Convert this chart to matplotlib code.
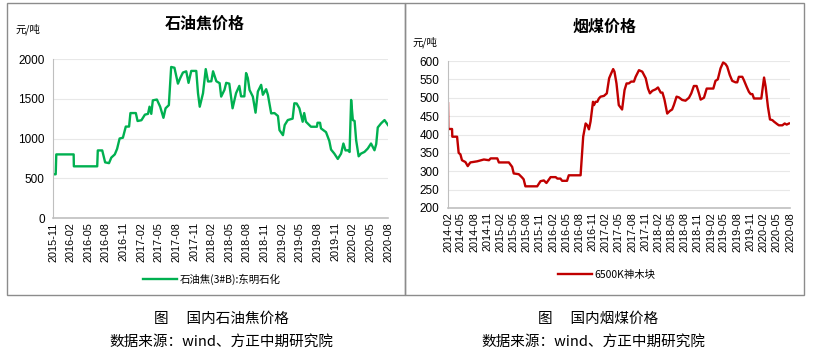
import pandas as pd
import matplotlib
matplotlib.use("Agg")
import matplotlib.pyplot as plt
import matplotlib.dates as mdates
from matplotlib.patches import Rectangle
from matplotlib.lines import Line2D

plt.rcParams["font.family"] = ["Noto Sans CJK SC", "DejaVu Sans"]

# 石油焦(3#B):东明石化  元/吨
coke_dates = [
    "2015-11-01", "2015-11-15", "2015-11-18", "2016-02-16", "2016-02-17", "2016-06-17",
    "2016-06-20", "2016-07-13", "2016-07-19", "2016-07-28", "2016-08-17", "2016-08-29",
    "2016-09-16", "2016-09-28", "2016-10-11", "2016-10-28", "2016-11-12", "2016-11-29",
    "2016-12-06", "2017-01-03", "2017-01-12", "2017-02-01", "2017-02-19", "2017-03-07",
    "2017-03-15", "2017-03-24", "2017-04-01", "2017-04-22", "2017-05-09", "2017-05-26",
    "2017-06-06", "2017-06-23", "2017-07-05", "2017-07-22", "2017-08-09", "2017-08-21",
    "2017-09-04", "2017-09-21", "2017-10-03", "2017-10-17", "2017-11-12", "2017-11-21",
    "2017-11-30", "2017-12-17", "2017-12-31", "2018-01-12", "2018-01-29", "2018-02-07",
    "2018-02-24", "2018-03-13", "2018-03-21", "2018-04-07", "2018-04-16", "2018-05-02",
    "2018-05-19", "2018-06-06", "2018-06-23", "2018-07-02", "2018-07-19", "2018-07-28",
    "2018-08-06", "2018-08-15", "2018-09-01", "2018-09-15", "2018-09-27", "2018-10-14",
    "2018-10-23", "2018-11-09", "2018-11-18", "2018-12-05", "2018-12-22", "2019-01-09",
    "2019-01-17", "2019-02-04", "2019-02-13", "2019-03-01", "2019-03-26", "2019-04-04",
    "2019-04-16", "2019-04-30", "2019-05-17", "2019-05-25", "2019-06-03", "2019-06-29",
    "2019-07-30", "2019-08-02", "2019-08-15", "2019-08-20", "2019-09-15", "2019-10-02",
    "2019-10-11", "2019-10-28", "2019-11-15", "2019-12-02", "2019-12-14", "2019-12-25",
    "2020-01-06", "2020-01-15", "2020-01-23", "2020-02-01", "2020-02-10", "2020-02-18",
    "2020-03-02", "2020-03-14", "2020-04-01", "2020-04-18", "2020-05-05", "2020-05-23",
    "2020-06-01", "2020-06-09", "2020-06-26", "2020-07-14", "2020-08-01",
]
coke_prices = [
    550, 550, 800, 800, 650, 650,
    850, 850, 790, 700, 690, 760,
    800, 870, 1000, 1010, 1150, 1150,
    1320, 1320, 1220, 1230, 1300, 1310,
    1400, 1310, 1480, 1490, 1400, 1260,
    1380, 1420, 1900, 1890, 1690, 1760,
    1830, 1845, 1700, 1850, 1850, 1570,
    1400, 1570, 1873, 1717, 1720, 1845,
    1720, 1696, 1527, 1612, 1700, 1690,
    1380, 1570, 1662, 1530, 1530, 1823,
    1760, 1610, 1527, 1325, 1591, 1675,
    1550, 1620, 1549, 1316, 1320, 1283,
    1105, 1042, 1169, 1232, 1250, 1443,
    1440, 1380, 1211, 1320, 1211, 1148,
    1148, 1198, 1198, 1127, 1080, 970,
    861, 810, 743, 810, 937, 850,
    852, 830, 1485, 1232, 1220, 979,
    776, 810, 831, 873, 937, 852,
    930, 1139, 1190, 1232, 1169,
]

# 6500K神木块  元/吨
coal_dates = [
    "2014-02-01", "2014-02-03", "2014-03-01", "2014-03-03", "2014-04-05", "2014-04-16",
    "2014-04-28", "2014-05-09", "2014-06-02", "2014-06-18", "2014-07-06", "2014-08-22",
    "2014-10-08", "2014-11-12", "2014-11-24", "2015-01-09", "2015-01-20", "2015-03-30",
    "2015-04-22", "2015-05-03", "2015-06-07", "2015-06-30", "2015-07-11", "2015-07-23",
    "2015-10-13", "2015-11-05", "2015-11-28", "2015-12-16", "2016-01-14", "2016-02-18",
    "2016-03-01", "2016-03-22", "2016-04-03", "2016-05-07", "2016-05-19", "2016-08-09",
    "2016-08-27", "2016-09-13", "2016-09-25", "2016-10-06", "2016-10-17", "2016-11-03",
    "2016-11-10", "2016-11-21", "2016-12-03", "2016-12-14", "2016-12-26", "2017-01-18",
    "2017-02-07", "2017-02-23", "2017-03-09", "2017-03-23", "2017-04-01", "2017-04-15",
    "2017-05-01", "2017-05-24", "2017-06-10", "2017-06-24", "2017-07-10", "2017-07-26",
    "2017-08-14", "2017-08-26", "2017-09-18", "2017-10-11", "2017-11-04", "2017-11-20",
    "2017-12-03", "2017-12-20", "2018-01-12", "2018-01-28", "2018-02-16", "2018-02-28",
    "2018-03-14", "2018-04-02", "2018-04-20", "2018-05-06", "2018-05-18", "2018-06-06",
    "2018-06-22", "2018-07-15", "2018-08-07", "2018-08-31", "2018-09-16", "2018-10-04",
    "2018-10-23", "2018-11-08", "2018-11-20", "2018-12-13", "2019-01-01", "2019-02-16",
    "2019-03-03", "2019-03-19", "2019-04-07", "2019-04-25", "2019-05-11", "2019-05-23",
    "2019-06-10", "2019-06-27", "2019-07-20", "2019-08-01", "2019-08-12", "2019-09-05",
    "2019-09-16", "2019-10-05", "2019-10-21", "2019-11-02", "2019-11-14", "2019-11-25",
    "2020-01-15", "2020-01-24", "2020-02-03", "2020-02-14", "2020-03-01", "2020-03-15",
    "2020-04-01", "2020-04-12", "2020-05-05", "2020-05-16", "2020-06-09", "2020-06-25",
    "2020-07-09", "2020-07-25",
]
coal_prices = [
    485, 415, 415, 394, 394, 350,
    346, 330, 325, 314, 324, 327,
    332, 330, 335, 335, 324, 324,
    312, 294, 292, 283, 278, 259,
    259, 273, 275, 268, 284, 284,
    280, 280, 274, 274, 289, 289,
    394, 430, 425, 414, 435, 489,
    480, 489, 489, 498, 503, 505,
    512, 553, 566, 578, 571, 539,
    480, 468, 521, 539, 539, 544,
    544, 557, 575, 571, 553, 525,
    512, 519, 523, 528, 514, 514,
    495, 457, 464, 468, 480, 503,
    501, 494, 492, 500, 512, 532,
    532, 512, 495, 500, 525, 525,
    546, 550, 580, 596, 592, 585,
    562, 546, 542, 542, 557, 557,
    548, 530, 516, 510, 510, 498,
    498, 525, 555, 530, 475, 441,
    439, 435, 428, 425, 425, 430,
    427, 430,
]

W, H = 821, 357
fig = plt.figure(figsize=(W / 100, H / 100), dpi=100)


def box(x0, y0, x1, y1):
    # pixel coords (top-left origin) -> figure fraction
    return [x0 / W, 1 - y1 / H, (x1 - x0) / W, (y1 - y0) / H]


def style_axis(ax, start, end, ylim, yticks):
    ax.set_xlim(pd.Timestamp(start), pd.Timestamp(end))
    ax.set_ylim(*ylim)
    ax.set_yticks(yticks)
    ax.xaxis.set_major_locator(mdates.MonthLocator(bymonth=[2, 5, 8, 11]))
    ax.xaxis.set_major_formatter(mdates.DateFormatter("%Y-%m"))
    ax.tick_params(axis="x", rotation=90, labelsize=7.8, length=0, pad=3)
    ax.tick_params(axis="y", labelsize=8.5, length=0, pad=6)
    for lab in ax.get_xticklabels() + ax.get_yticklabels():
        lab.set_family(["Liberation Sans", "DejaVu Sans"])
    ax.grid(axis="y", color="#e8e8e8", linewidth=0.8)
    ax.set_axisbelow(True)
    for s in ["top", "right"]:
        ax.spines[s].set_visible(False)
    ax.spines["left"].set_color("#bfbfbf")
    ax.spines["bottom"].set_color("#bfbfbf")
    ax.spines["bottom"].set_linewidth(1.2)


# 左图：石油焦
ax1 = fig.add_axes(box(53, 59, 388, 218))
ax1.plot(pd.to_datetime(coke_dates), coke_prices, color="#00b050", linewidth=1.7)
style_axis(ax1, "2015-11-01", "2020-08-01", (0, 2000), range(0, 2001, 500))

# 右图：烟煤
ax2 = fig.add_axes(box(448, 61, 790, 208))
ax2.plot(pd.to_datetime(coal_dates), coal_prices, color="#c00000", linewidth=1.7)
style_axis(ax2, "2014-02-01", "2020-08-01", (200, 600), range(200, 601, 50))

# 外框
fig.patches.append(Rectangle((7 / W, 1 - 295 / H), 398 / W, 292 / H, transform=fig.transFigure,
                             fill=False, edgecolor="#8c8c8c", linewidth=1.0))
fig.patches.append(Rectangle((405 / W, 1 - 295 / H), 399 / W, 292 / H, transform=fig.transFigure,
                             fill=False, edgecolor="#8c8c8c", linewidth=1.0))

# 标题与单位
fig.text(205 / W, 1 - 24 / H, "石油焦价格", ha="center", va="center", fontsize=11.5, fontweight="bold")
fig.text(605 / W, 1 - 27 / H, "烟煤价格", ha="center", va="center", fontsize=11.5, fontweight="bold")
fig.text(28 / W, 1 - 29 / H, "元/吨", ha="center", va="center", fontsize=7.5)
fig.text(425 / W, 1 - 42 / H, "元/吨", ha="center", va="center", fontsize=7.5)

# 图例
fig.legend([Line2D([], [], color="#00b050", linewidth=1.7)], ["石油焦(3#B):东明石化"],
           loc="center", bbox_to_anchor=(212 / W, 1 - 279 / H), frameon=False,
           fontsize=7.5, handlelength=3.2, handletextpad=0.3)
fig.legend([Line2D([], [], color="#c00000", linewidth=1.7)], ["6500K神木块"],
           loc="center", bbox_to_anchor=(607 / W, 1 - 275 / H), frameon=False,
           fontsize=7.5, handlelength=3.2, handletextpad=0.3)

# 图注
fig.text(221 / W, 1 - 319 / H, "图　 国内石油焦价格", ha="center", va="center", fontsize=10.5)
fig.text(221 / W, 1 - 342 / H, "数据来源：wind、方正中期研究院", ha="center", va="center", fontsize=10.5)
fig.text(598 / W, 1 - 319 / H, "图　 国内烟煤价格", ha="center", va="center", fontsize=10.5)
fig.text(593 / W, 1 - 342 / H, "数据来源：wind、方正中期研究院", ha="center", va="center", fontsize=10.5)

fig.savefig("out.png", dpi=100, facecolor="white")
